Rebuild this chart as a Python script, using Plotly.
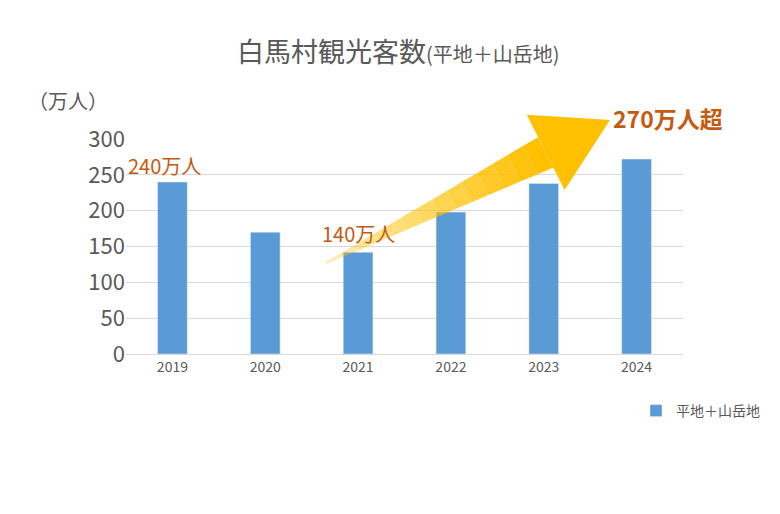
import plotly.graph_objects as go
import numpy as np

years = ["2019", "2020", "2021", "2022", "2023", "2024"]
visitors = [240, 170, 142, 198, 238, 272]
series_name = "平地＋山岳地"
y_ticks = [0, 50, 100, 150, 200, 250, 300]

L, R, T, B = 118, 105, 131, 168
W, H = 780, 514
pw, ph = W - L - R, H - T - B
def px(x, y):
    return (x - L) / pw, (H - B - y) / ph

fig = go.Figure(go.Bar(x=years, y=visitors, name=series_name, marker_color="#5B9BD5",
                       showlegend=True))

# gradient arrow
tail = np.array([318.0, 255.0]); tip = np.array([602.0, 112.0])
d = tip - tail; length = np.linalg.norm(d); u = d / length; n = np.array([u[1], -u[0]])
head_len, head_hw = 72, 42
base = tip - u * head_len
nseg = 14
def hw(t):
    return 1 + t * 16
shapes = []
for i in range(nseg):
    t0, t1 = i / nseg, (i + 1) / nseg
    p0 = tail + (base - tail) * t0; p1 = tail + (base - tail) * t1
    pts = [p0 + n * hw(t0), p1 + n * hw(t1), p1 - n * hw(t1), p0 - n * hw(t0)]
    op = 0.25 + 0.75 * t1
    path = "M " + " L ".join(f"{px(*p)[0]},{px(*p)[1]}" for p in pts) + " Z"
    shapes.append(dict(type="path", xref="paper", yref="paper", path=path,
                       fillcolor="#FFC000", opacity=op, line_width=0))
hp = [base + n * head_hw, tip, base - n * head_hw]
path = "M " + " L ".join(f"{px(*p)[0]},{px(*p)[1]}" for p in hp) + " Z"
shapes.append(dict(type="path", xref="paper", yref="paper", path=path,
                   fillcolor="#FFC000", line_width=0))

font = "Noto Sans CJK JP"
orange = "#C55A11"
def ann(text, x, y, size, color, bold=False, xanchor="left"):
    a, b = px(x, y)
    return dict(text=f"<b>{text}</b>" if bold else text, x=a, y=b, xref="paper", yref="paper",
                showarrow=False, xanchor=xanchor, yanchor="middle",
                font=dict(family=font, size=size, color=color))

anns = [
    ann("240万人", 118, 157, 20, orange),
    ann("140万人", 312, 225, 20, orange),
    ann("270万人超", 603, 110, 23, orange, bold=True),
    ann("（万人）", 18, 92, 20, "#595959"),
    dict(text="白馬村観光客数<span style='font-size:20px'>(平地＋山岳地)</span>",
         x=0.5, y=42, xref="paper", yref="paper", showarrow=False),
]
a, b = px(W / 2, 42)
anns[-1].update(x=(390 - L) / pw, y=b, font=dict(family=font, size=27, color="#595959"),
                xanchor="center", yanchor="middle")

fig.update_layout(
    width=W, height=H, margin=dict(l=L, r=R, t=T, b=B),
    plot_bgcolor="white", paper_bgcolor="white",
    bargap=0.68, shapes=shapes, annotations=anns,
    font=dict(family=font, color="#595959"),
    xaxis=dict(tickfont=dict(size=14, color="#595959"), showline=True, linecolor="#D9D9D9",
               ticks=""),
    yaxis=dict(range=[0, 300], tickvals=y_ticks, tickfont=dict(size=22, color="#595959"),
               gridcolor="#D9D9D9", zeroline=False, ticksuffix="  "),
    legend=dict(x=(628 - L) / pw, y=px(0, 403)[1], xanchor="left", yanchor="middle",
                font=dict(size=14, color="#595959")),
)
fig.write_html("out.html")
